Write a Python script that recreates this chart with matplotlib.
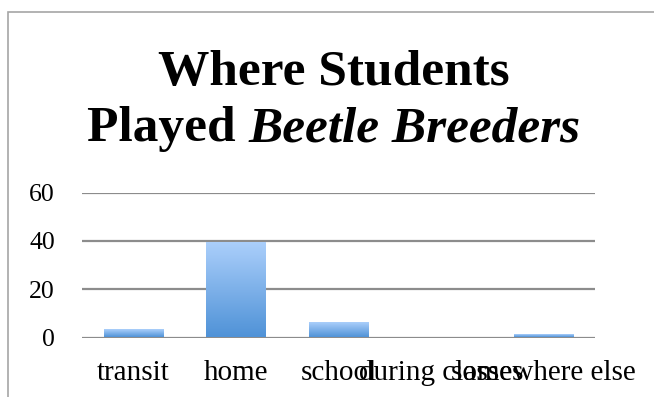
import matplotlib
matplotlib.use("Agg")
import matplotlib.pyplot as plt
import numpy as np
from matplotlib.colors import LinearSegmentedColormap
from matplotlib.patches import Rectangle

# where students played the game
places = ["transit", "home", "school", "during classes", "somewhere else"]
students = [3, 39, 6, 0, 1]
y_ticks = [0, 20, 40, 60]

W, H = 654, 397
fig = plt.figure(figsize=(W / 100, H / 100), dpi=100)

# outer chart frame (only top and left edges fall inside the image)
fig.patches.append(Rectangle((8 / W, -0.1), 1.2, 1 - 12 / H + 0.1,
                             transform=fig.transFigure, fill=False,
                             edgecolor="#a6a6a6", linewidth=1.2))

ax = fig.add_axes([82 / W, 1 - 337.5 / H, (595 - 82) / W, (337.5 - 192.5) / H])
for s in ax.spines.values():
    s.set_visible(False)

for t in y_ticks:
    ax.axhline(t, color="#8c8c8c", linewidth=1.6, zorder=1)

blues = LinearSegmentedColormap.from_list("bar", ["#4f92d7", "#abcffb"])
grad = np.linspace(0, 1, 256).reshape(-1, 1)
bw = 0.58
for i, v in enumerate(students):
    if v <= 0:
        continue
    ax.imshow(grad, cmap=blues, origin="lower", aspect="auto",
              extent=(i - bw / 2, i + bw / 2, 0, v), zorder=2)
ax.set_xlim(-0.5, len(places) - 0.5)
ax.set_ylim(0, 60)

serif = ["Liberation Serif", "DejaVu Serif"]
ax.set_yticks(y_ticks)
ax.set_yticklabels([str(t) for t in y_ticks], family=serif, fontsize=18.5)
ax.set_xticks(range(len(places)))
ax.set_xticklabels(places, family=serif, fontsize=21)
ax.tick_params(length=0)
ax.tick_params(axis="x", pad=16.5)
ax.tick_params(axis="y", pad=19.5)

# two-line title, second line mixes bold and bold italic
tfs = 37
cx = 334
fig.text(cx / W, 1 - 85 / H, "Where Students", family=serif,
         fontsize=tfs, fontweight="bold", ha="center", va="baseline")
t1 = fig.text(0, 1 - 141 / H, "Played ", family=serif, fontsize=tfs,
              fontweight="bold", ha="left", va="baseline")
t2 = fig.text(0, 1 - 141 / H, "Beetle Breeders", family=serif, fontsize=tfs,
              fontweight="bold", style="italic", ha="left", va="baseline")
r = fig.canvas.get_renderer()
w1 = t1.get_window_extent(r).width
w2 = t2.get_window_extent(r).width
x0 = cx - (w1 + w2) / 2
t1.set_x(x0 / W)
t2.set_x((x0 + w1) / W)

fig.savefig("out.png", dpi=100)
